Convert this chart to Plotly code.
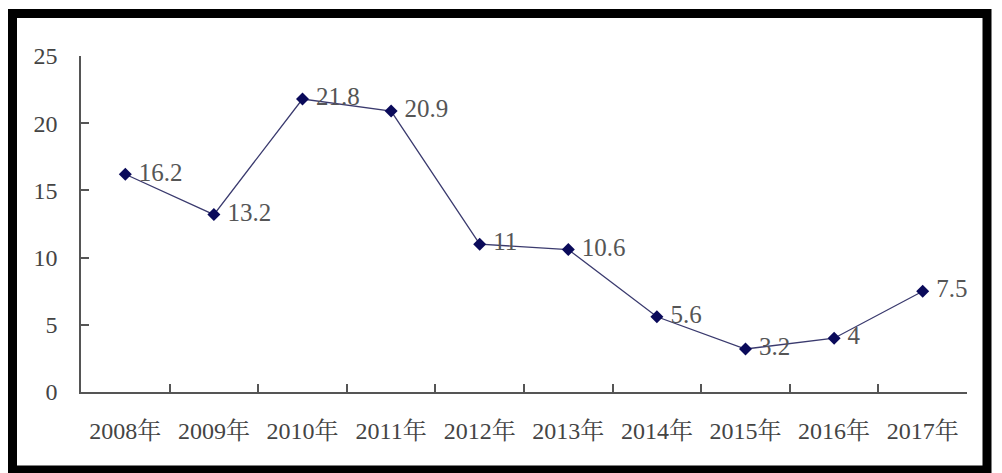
import plotly.graph_objects as go

years = ["2008年", "2009年", "2010年", "2011年", "2012年", "2013年", "2014年", "2015年", "2016年", "2017年"]
values = [16.2, 13.2, 21.8, 20.9, 11, 10.6, 5.6, 3.2, 4, 7.5]
labels = ["16.2", "13.2", "21.8", "20.9", "11", "10.6", "5.6", "3.2", "4", "7.5"]
y_ticks = [0, 5, 10, 15, 20, 25]

W, H = 1002, 473
L, R, T, B = 81, 35, 56, 81
pw, ph = W - L - R, H - T - B

def px(x):
    return (x - L) / pw

def py(y):
    return (H - B - y) / ph

FONT = "Liberation Serif, Noto Serif CJK SC, Noto Sans CJK SC, serif"

fig = go.Figure()
fig.add_trace(go.Scatter(
    x=years, y=values, text=[" " + s for s in labels],
    mode="lines+markers+text",
    textposition="middle right",
    textfont=dict(family=FONT, size=25, color="#555555"),
    line=dict(color="#3a3a6e", width=1.3),
    marker=dict(symbol="diamond", size=10, color="#0a0a5a"),
    cliponaxis=False,
    showlegend=False,
))

fig.update_layout(
    width=W, height=H,
    margin=dict(l=L, r=R, t=T, b=B),
    paper_bgcolor="white", plot_bgcolor="white",
    font=dict(family=FONT, size=24, color="#444444"),
    xaxis=dict(
        type="category", range=[-0.5, len(years) - 0.5],
        showline=True, linecolor="#555555", linewidth=1.5,
        ticks="inside", ticklen=8, tickcolor="#555555", tickwidth=1.5,
        tickson="boundaries",
        showgrid=False, zeroline=False,
        tickfont=dict(family=FONT, size=24, color="#444444"),
        ticklabelstandoff=16,
    ),
    yaxis=dict(
        range=[0, 25], tickvals=y_ticks,
        showline=True, linecolor="#555555", linewidth=1.5,
        ticks="inside", ticklen=8, tickcolor="#555555", tickwidth=1.5,
        showgrid=False, zeroline=False,
        tickfont=dict(family=FONT, size=24, color="#444444"),
        ticklabelstandoff=17,
    ),
    shapes=[dict(
        type="rect", xref="paper", yref="paper",
        x0=px(12.5), x1=px(987), y0=py(470), y1=py(13.5),
        line=dict(color="black", width=9),
        fillcolor="rgba(0,0,0,0)", layer="above",
    )],
)

fig.write_html("out.html")
